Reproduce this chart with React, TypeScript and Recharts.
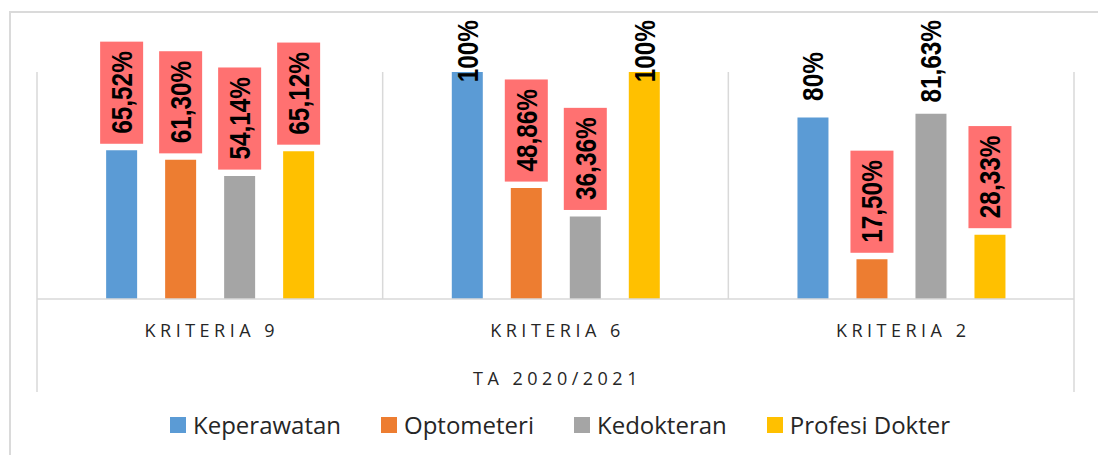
import React from 'react';
import { BarChart, Bar, XAxis, YAxis, CartesianGrid, LabelList } from 'recharts';

const categories = ['KRITERIA 9', 'KRITERIA 6', 'KRITERIA 2'];
const groupLabel = 'TA 2020/2021';
const seriesNames = ['Keperawatan', 'Optometeri', 'Kedokteran', 'Profesi Dokter'];
const keperawatan = [65.52, 100, 80];
const optometeri = [61.3, 48.86, 17.5];
const kedokteran = [54.14, 36.36, 81.63];
const profesiDokter = [65.12, 100, 28.33];
const keperawatanBoxed = [true, false, false];
const optometeriBoxed = [true, true, true];
const kedokteranBoxed = [true, true, false];
const profesiDokterBoxed = [true, false, true];
const colors = ['#5B9BD5', '#ED7D31', '#A5A5A5', '#FFC000'];

const seriesValues = [keperawatan, optometeri, kedokteran, profesiDokter];
const seriesBoxed = [keperawatanBoxed, optometeriBoxed, kedokteranBoxed, profesiDokterBoxed];

const data = categories.map((name, i) => {
  const row: any = { name };
  seriesValues.forEach((vals, s) => {
    row['s' + s] = vals[i];
  });
  return row;
});

const LABEL_FAMILY = '"Liberation Sans", Arial, sans-serif';
const LABEL_SIZE = 29;
const LABEL_SQUEEZE = 0.84;
const GRID = '#D9D9D9';
const TEXT = '#262626';

let ctx: CanvasRenderingContext2D | null = null;
function measure(s: string, font: string) {
  if (!ctx && typeof document !== 'undefined') ctx = document.createElement('canvas').getContext('2d');
  if (!ctx) return s.length * 15;
  ctx.font = font;
  return ctx.measureText(s).width;
}

function fmt(v: number) {
  if (Number.isInteger(v)) return v + '%';
  return v.toFixed(2).replace('.', ',') + '%';
}

const makeLabel = (boxed: boolean[]) => (props: any) => {
  const { x, y, width, value, index } = props;
  const cx = Number(x) + Number(width) / 2;
  const top = Number(y);
  const s = fmt(Number(value));
  const L = measure(s, `bold ${LABEL_SIZE}px ${LABEL_FAMILY}`) * LABEL_SQUEEZE;
  let textBottom = top - 16.5;
  let textTop = textBottom - L;
  if (textTop < 20) {
    textTop = 20;
    textBottom = textTop + L;
  }
  const isBoxed = boxed[index];
  return (
    <g>
      {isBoxed && (
        <rect x={cx - 21.5} y={textTop - 9.5} width={43} height={L + 19.5} fill="#FF7171" />
      )}
      <text
        x={0}
        y={0}
        transform={`translate(${cx + 0.5}, ${textBottom}) rotate(-90) scale(${LABEL_SQUEEZE}, 1)`}
        textAnchor="start"
        dominantBaseline="central"
        fontFamily={LABEL_FAMILY}
        fontWeight="bold"
        fontSize={LABEL_SIZE}
        fill="#000"
      >
        {s}
      </text>
    </g>
  );
};

const CatTick = (props: any) => {
  const { x, y, payload } = props;
  return (
    <text
      x={Number(x) + 2}
      y={Number(y) + 31}
      textAnchor="middle"
      dominantBaseline="central"
      fontFamily='"Open Sans", sans-serif'
      fontSize={18}
      letterSpacing={4.5}
      fill={TEXT}
    >
      {payload.value}
    </text>
  );
};

const AxisExtras = (props: any) => {
  const vb = props.viewBox || {};
  const x0 = vb.x, y0 = vb.y, w = vb.width;
  return (
    <g>
      <line x1={x0} y1={y0} x2={x0} y2={y0 + 93} stroke={GRID} strokeWidth={1.5} />
      <line x1={x0 + w} y1={y0} x2={x0 + w} y2={y0 + 93} stroke={GRID} strokeWidth={1.5} />
      <text
        x={x0 + w / 2 + 2}
        y={y0 + 79}
        textAnchor="middle"
        dominantBaseline="central"
        fontFamily='"Open Sans", sans-serif'
        fontSize={18}
        letterSpacing={4.5}
        fill={TEXT}
      >
        {groupLabel}
      </text>
    </g>
  );
};

export default function App() {
  return (
    <div style={{ position: 'absolute', left: 0, top: 0, width: 1098, height: 455, background: '#fff', overflow: 'hidden' }}>
      <div
        style={{
          position: 'absolute',
          left: 9,
          top: 11,
          width: 1200,
          height: 600,
          borderLeft: '2px solid #DADADA',
          borderTop: '2px solid #DADADA',
        }}
      />
      <div style={{ position: 'absolute', left: 0, top: 0 }}>
        <BarChart
          width={1098}
          height={455}
          data={data}
          margin={{ top: 72, right: 24, left: 37, bottom: 56 }}
          barCategoryGap="20%"
          barGap={28}
        >
          <CartesianGrid
            horizontal={false}
            vertical
            stroke={GRID}
            strokeWidth={1.5}
            verticalCoordinatesGenerator={({ offset }: any) => {
              const pts: number[] = [];
              for (let i = 0; i <= categories.length; i++) pts.push(offset.left + (i * offset.width) / categories.length);
              return pts;
            }}
          />
          <XAxis
            dataKey="name"
            height={100}
            tickLine={false}
            tickSize={0}
            tickMargin={0}
            axisLine={{ stroke: GRID, strokeWidth: 1.5 }}
            tick={<CatTick />}
            interval={0}
            label={{ content: (p: any) => <AxisExtras {...p} /> }}
          />
          <YAxis hide domain={[0, 100]} />
          {seriesNames.map((n, s) => (
            <Bar key={n} dataKey={'s' + s} name={n} fill={colors[s]} isAnimationActive={false}>
              <LabelList dataKey={'s' + s} content={makeLabel(seriesBoxed[s])} />
            </Bar>
          ))}
        </BarChart>
      </div>
      <div
        style={{
          position: 'absolute',
          left: 0,
          top: 410,
          width: 1098,
          display: 'flex',
          justifyContent: 'center',
          paddingLeft: 22,
          boxSizing: 'border-box',
          fontFamily: '"Open Sans", sans-serif',
          fontSize: 24,
          color: TEXT,
        }}
      >
        {seriesNames.map((n, s) => (
          <div key={n} style={{ display: 'flex', alignItems: 'center', marginRight: s < seriesNames.length - 1 ? 40 : 0, height: 30 }}>
            <div style={{ width: 16, height: 16, background: colors[s], marginRight: 7 }} />
            <span style={{ lineHeight: '30px' }}>{n}</span>
          </div>
        ))}
      </div>
    </div>
  );
}
